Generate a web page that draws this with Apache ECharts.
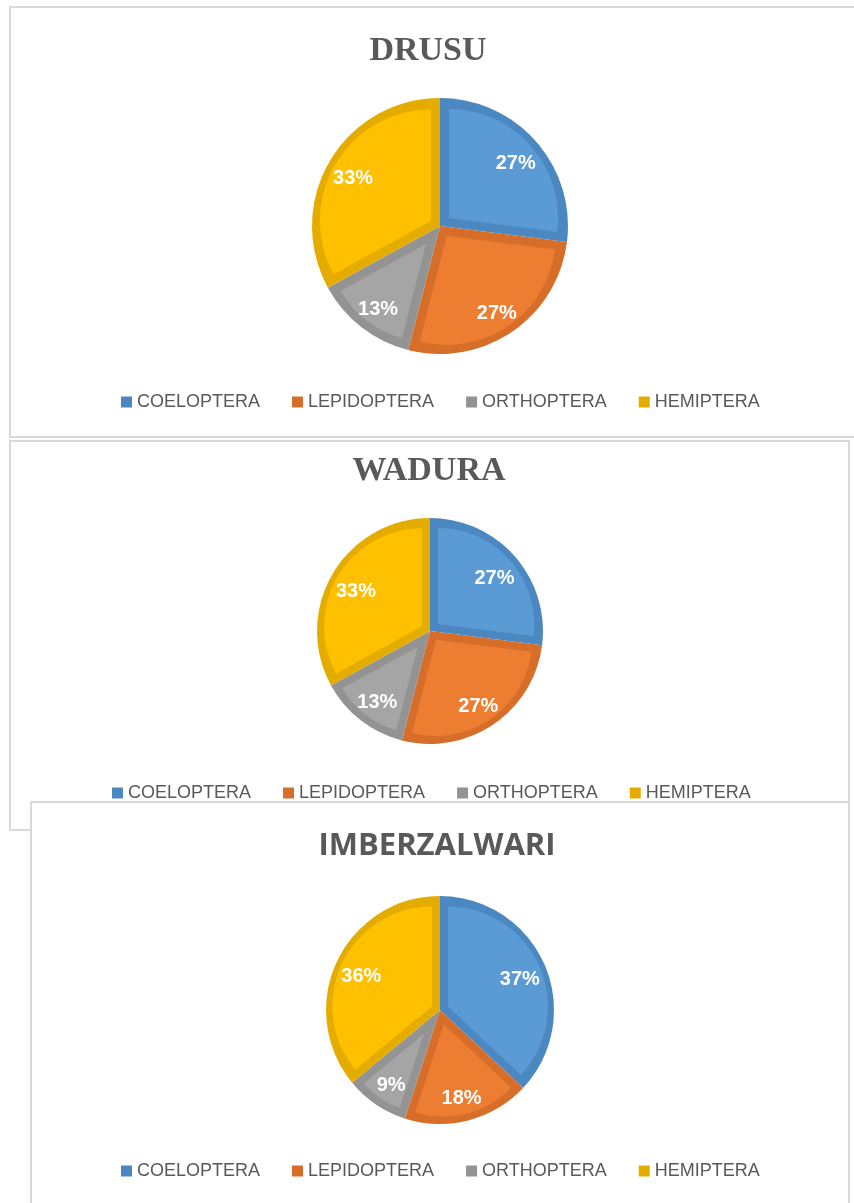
<!DOCTYPE html>
<html>
<head>
<meta charset="utf-8">
<script src="https://cdn.jsdelivr.net/npm/echarts@6/dist/echarts.min.js"></script>
<style>
html,body{margin:0;padding:0;background:#fff;}
#c{width:854px;height:1203px;}
</style>
</head>
<body>
<div id="c"></div>
<script>
// ---- data ----
const categories = ['COELOPTERA', 'LEPIDOPTERA', 'ORTHOPTERA', 'HEMIPTERA'];
const siteNames = ['DRUSU', 'WADURA', 'IMBERZALWARI'];
const drusu = [27, 27, 13, 33];
const wadura = [27, 27, 13, 33];
const imberzalwari = [37, 18, 9, 36];

// ---- styling ----
const fillColors = ['#5B9BD5', '#ED7D31', '#A5A5A5', '#FFC000'];
const bandColors = ['#4B88C2', '#D66E29', '#939393', '#E5AC00'];

const panels = [
  { values: drusu,        cx: 440, cy: 226,  r: 128, band: 9, labelR: 98, titleX: 428, titleTop: 34,  titleFam: '"Liberation Serif", "Times New Roman", serif', titleSize: 34, legendLeft: 116, legendTop: 388 },
  { values: wadura,       cx: 430, cy: 631,  r: 113, band: 8, labelR: 83, titleX: 429, titleTop: 454, titleFam: '"Liberation Serif", "Times New Roman", serif', titleSize: 34, legendLeft: 107, legendTop: 779 },
  { values: imberzalwari, cx: 440, cy: 1010, r: 114, band: 8, labelR: 84, titleX: 437, titleTop: 831, titleFam: '"Open Sans", sans-serif', titleSize: 31, legendLeft: 116, legendTop: 1157 }
];

function toData(vals, colors) {
  return categories.map((name, i) => ({ name: name, value: vals[i], itemStyle: { color: colors[i] } }));
}

const series = [];
const titles = [];
const legends = [];
panels.forEach((p, k) => {
  titles.push({
    text: siteNames[k], left: p.titleX, top: p.titleTop, textAlign: 'center', padding: 0,
    textStyle: { fontFamily: p.titleFam, fontSize: p.titleSize, fontWeight: 'bold', color: '#595959' }
  });
  legends.push({
    data: categories, left: p.legendLeft, top: p.legendTop, orient: 'horizontal',
    icon: 'rect', itemWidth: 11, itemHeight: 11, itemGap: 32, selectedMode: false,
    textStyle: { fontFamily: '"Liberation Sans", Arial, sans-serif', fontSize: 18, color: '#595959' }
  });
  // dark outer band layer (full slices)
  series.push({
    type: 'pie', center: [p.cx, p.cy], radius: [0, p.r], startAngle: 90, clockwise: true,
    silent: true, label: { show: false }, labelLine: { show: false }, animation: false,
    data: toData(p.values, bandColors), z: 2
  });
  // lighter inset fill: one pie per slice, same angles, apex moved inward so the
  // dark band keeps a constant width along both straight edges
  const total = p.values.reduce((a, b) => a + b, 0);
  let acc = 0;
  p.values.forEach((v, i) => {
    const mid = (acc + v / 2) / total * Math.PI * 2;
    const half = v / total * Math.PI;
    acc += v;
    const s = p.band / Math.sin(Math.min(half, Math.PI / 2));
    const rL = p.r - p.band - s * (1 + Math.cos(half)) / 2;
    const colors = categories.map((c, j) => (j === i ? fillColors[i] : 'rgba(0,0,0,0)'));
    series.push({
      type: 'pie', center: [p.cx + s * Math.sin(mid), p.cy - s * Math.cos(mid)], radius: [0, rL],
      startAngle: 90, clockwise: true, silent: true, animation: false, z: 3,
      label: { show: false }, labelLine: { show: false },
      data: toData(p.values, colors)
    });
  });
  // label layer
  series.push({
    type: 'pie', center: [p.cx, p.cy], radius: [2 * p.labelR - p.r, p.r], startAngle: 90, clockwise: true,
    silent: true, animation: false, z: 4,
    itemStyle: { color: 'rgba(0,0,0,0)' },
    label: { show: true, position: 'inside', formatter: '{c}%', color: '#ffffff', offset: [0, 4],
      fontFamily: '"Liberation Sans", Arial, sans-serif', fontWeight: 'bold', fontSize: 20 },
    labelLine: { show: false },
    data: categories.map((name, i) => ({ name: name, value: p.values[i] }))
  });
});

const borderStyle = { fill: '#ffffff', stroke: '#D9D9D9', lineWidth: 2 };
const option = {
  backgroundColor: '#ffffff',
  animation: false,
  title: titles,
  legend: legends,
  graphic: [
    { type: 'rect', z: -10, shape: { x: 10, y: 7, width: 860, height: 430 }, style: borderStyle, silent: true },
    { type: 'rect', z: -9, shape: { x: 10, y: 441, width: 839, height: 389 }, style: borderStyle, silent: true },
    { type: 'rect', z: -8, shape: { x: 31, y: 802, width: 818, height: 420 }, style: borderStyle, silent: true }
  ],
  series: series
};

const chart = echarts.init(document.getElementById('c'), null, { renderer: 'canvas' });
chart.setOption(option);
</script>
</body>
</html>
